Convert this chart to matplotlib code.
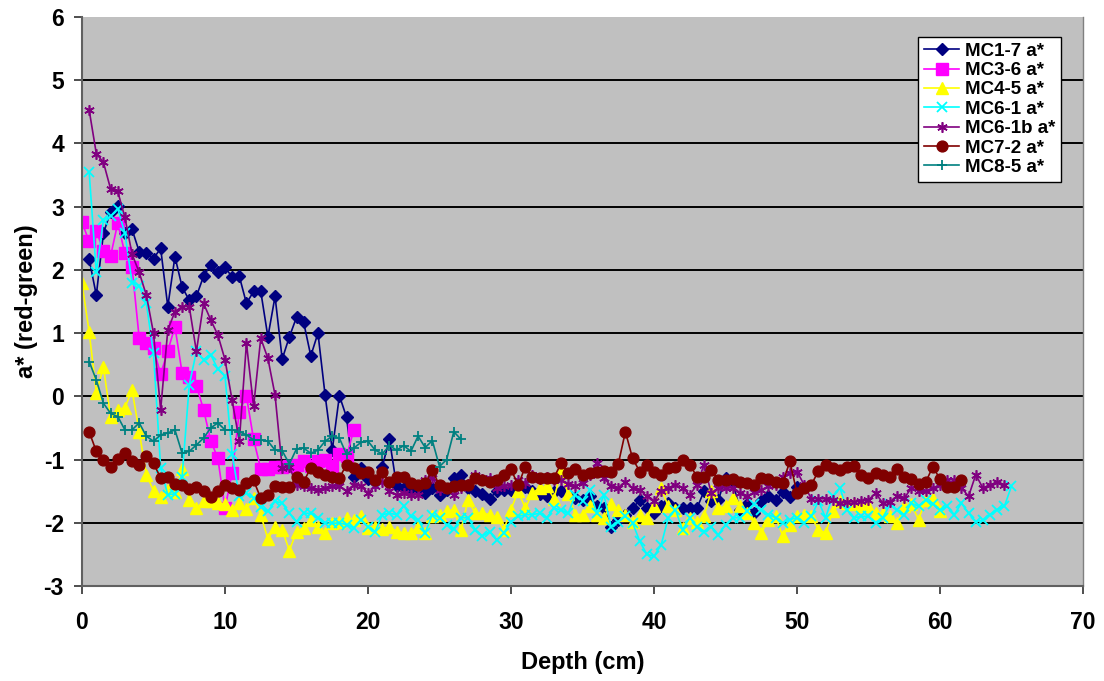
import numpy as np
import matplotlib
matplotlib.use("Agg")
import matplotlib.pyplot as plt

plt.rcParams["font.family"] = ["Liberation Sans", "DejaVu Sans"]
plt.rcParams["axes.unicode_minus"] = False

STEP = 0.5  # sampling interval along the core (cm)

mc1_7_start = 0.5
mc1_7 = [2.17, 1.60, 2.58, 2.92, 3.01, 2.58, 2.64, 2.29, 2.26, 2.18,
         2.34, 1.42, 2.21, 1.73, 1.52, 1.58, 1.90, 2.08, 1.96, 2.05,
         1.88, 1.90, 1.47, 1.66, 1.66, 0.94, 1.58, 0.59, 0.94, 1.25,
         1.17, 0.64, 1.00, 0.02, -0.85, 0.01, -0.33, -1.27, -1.13, -1.30,
         -1.35, -1.11, -0.68, -1.42, -1.45, -1.50, -1.45, -1.53, -1.45, -1.56,
         -1.48, -1.29, -1.24, -1.45, -1.50, -1.55, -1.62, -1.50, -1.48, -1.48,
         -1.45, -1.43, -1.50, -1.54, -1.58, -1.52, -1.50, -1.55, -1.61, -1.64,
         -1.58, -1.74, -1.77, -2.06, -1.95, -1.87, -1.77, -1.64, -1.77, -1.85,
         -1.74, -1.69, -1.77, -1.77, -1.77, -1.77, -1.50, -1.66, -1.64, -1.29,
         -1.35, -1.79, -1.71, -1.85, -1.66, -1.58, -1.64, -1.52, -1.59, -1.43]

mc3_6_start = 0.0
mc3_6 = [2.75, 2.45, 2.62, 2.30, 2.22, 2.74, 2.26, 2.04, 0.92, 0.84,
         0.76, 0.35, 0.72, 1.10, 0.37, 0.30, 0.17, -0.21, -0.70, -0.98,
         -1.77, -1.21, -0.24, 0.00, -0.68, -1.15, -1.15, -1.12, -1.12, -1.10,
         -1.08, -1.03, -1.10, -1.03, -1.00, -1.10, -0.92, -0.95, -0.53]

mc4_5_start = 0.0
mc4_5 = [1.79, 1.02, 0.06, 0.46, -0.33, -0.21, -0.18, 0.10, -0.56, -1.24,
         -1.49, -1.59, -1.48, -1.52, -1.15, -1.64, -1.77, -1.66, -1.66, -1.68,
         -1.71, -1.79, -1.68, -1.78, -1.61, -1.87, -2.26, -2.06, -2.11, -2.44,
         -2.14, -2.08, -1.95, -2.06, -2.16, -2.00, -1.98, -1.92, -1.96, -1.90,
         -2.08, -2.06, -2.10, -2.06, -2.14, -2.16, -2.16, -2.06, -2.16, -1.90,
         -1.87, -1.82, -1.79, -2.11, -1.64, -1.85, -1.85, -1.87, -1.91, -2.11,
         -1.79, -1.50, -1.77, -1.53, -1.45, -1.42, -1.62, -1.19, -1.55, -1.87,
         -1.87, -1.74, -1.87, -1.92, -1.71, -1.79, -1.87, -1.99, -1.87, -1.92,
         -1.73, -1.45, -1.74, -1.80, -2.08, -1.92, -1.98, -1.90, -1.50, -1.77,
         -1.74, -1.61, -1.74, -1.85, -2.00, -2.16, -1.95, -1.90, -2.21, -2.03,
         -1.90, -1.87, -1.90, -2.11, -2.16, -1.82, -1.66, -1.69, -1.71, -1.74,
         -1.74, -1.85, -1.85, -1.90, -2.01, -1.73, -1.71, -1.95, -1.64, -1.62,
         -1.82]

mc6_1_start = 0.5
mc6_1 = [3.55, 1.96, 2.79, 2.85, 2.97, 2.58, 1.80, 1.75, 1.47, 0.68,
         -1.13, -1.56, -1.54, -1.27, 0.18, 0.71, 0.58, 0.66, 0.43, 0.32,
         -0.92, -1.58, -1.53, -1.61, -1.75, -1.82, -1.66, -1.69, -1.85, -1.98,
         -1.85, -1.85, -1.92, -2.00, -2.01, -2.00, -2.03, -2.08, -1.95, -2.06,
         -2.14, -1.87, -1.85, -1.87, -1.73, -1.90, -1.95, -2.16, -1.87, -1.92,
         -2.03, -2.10, -1.92, -1.92, -2.11, -2.21, -2.14, -2.27, -2.16, -1.98,
         -1.90, -1.87, -1.87, -1.85, -1.92, -1.77, -1.80, -1.85, -1.56, -1.65,
         -1.48, -1.85, -1.56, -2.06, -1.98, -1.90, -2.00, -2.29, -2.50, -2.53,
         -2.35, -1.92, -1.79, -2.11, -1.92, -2.06, -2.14, -2.06, -2.19, -2.03,
         -1.92, -1.92, -1.82, -1.71, -1.80, -1.87, -1.92, -2.00, -1.95, -1.92,
         -2.00, -1.90, -1.66, -1.92, -1.58, -1.45, -1.79, -1.92, -1.90, -1.90,
         -2.00, -1.92, -1.71, -1.80, -1.87, -1.69, -1.74, -1.64, -1.70, -1.80,
         -1.74, -1.87, -1.69, -1.85, -1.98, -1.96, -1.87, -1.79, -1.74, -1.42]

mc6_1b_start = 0.5
mc6_1b = [4.53, 3.84, 3.70, 3.28, 3.24, 2.83, 2.25, 1.96, 1.60, 1.00,
          -0.21, 1.05, 1.34, 1.42, 1.42, 0.71, 1.47, 1.21, 0.97, 0.58,
          -0.06, -0.71, 0.84, -0.16, 0.92, 0.60, 0.02, -1.13, -1.11, -1.40,
          -1.42, -1.45, -1.48, -1.45, -1.42, -1.42, -1.50, -1.40, -1.42, -1.53,
          -1.42, -1.35, -1.50, -1.56, -1.53, -1.56, -1.56, -1.32, -1.29, -1.48,
          -1.45, -1.56, -1.45, -1.38, -1.24, -1.30, -1.29, -1.45, -1.42, -1.40,
          -1.32, -1.37, -1.24, -1.30, -1.28, -1.32, -1.32, -1.38, -1.42, -1.37,
          -1.24, -1.06, -1.29, -1.42, -1.45, -1.35, -1.45, -1.48, -1.58, -1.66,
          -1.50, -1.45, -1.40, -1.45, -1.56, -1.40, -1.08, -1.53, -1.45, -1.45,
          -1.45, -1.53, -1.58, -1.52, -1.48, -1.42, -1.40, -1.27, -1.21, -1.19,
          -1.40, -1.62, -1.62, -1.62, -1.64, -1.69, -1.67, -1.67, -1.65, -1.64,
          -1.53, -1.69, -1.67, -1.58, -1.61, -1.45, -1.50, -1.50, -1.45, -1.40,
          -1.32, -1.32, -1.45, -1.58, -1.24, -1.45, -1.40, -1.36, -1.40]

mc7_2_start = 0.5
mc7_2 = [-0.56, -0.87, -1.00, -1.11, -0.99, -0.89, -1.03, -1.08, -0.94, -1.06,
         -1.29, -1.27, -1.38, -1.40, -1.47, -1.43, -1.50, -1.59, -1.50, -1.40,
         -1.45, -1.48, -1.37, -1.33, -1.61, -1.56, -1.42, -1.43, -1.43, -1.28,
         -1.35, -1.13, -1.19, -1.24, -1.28, -1.29, -1.08, -1.13, -1.21, -1.19,
         -1.32, -1.20, -1.36, -1.27, -1.28, -1.37, -1.41, -1.37, -1.17, -1.41,
         -1.45, -1.42, -1.41, -1.40, -1.29, -1.32, -1.35, -1.32, -1.24, -1.15,
         -1.41, -1.11, -1.27, -1.29, -1.29, -1.29, -1.06, -1.21, -1.15, -1.24,
         -1.22, -1.19, -1.18, -1.19, -1.07, -0.56, -0.98, -1.19, -1.08, -1.19,
         -1.24, -1.13, -1.11, -1.00, -1.08, -1.27, -1.27, -1.16, -1.32, -1.32,
         -1.31, -1.36, -1.37, -1.41, -1.29, -1.31, -1.35, -1.37, -1.03, -1.53,
         -1.45, -1.40, -1.18, -1.08, -1.13, -1.16, -1.11, -1.10, -1.24, -1.29,
         -1.22, -1.24, -1.27, -1.15, -1.27, -1.31, -1.38, -1.36, -1.11, -1.31,
         -1.43, -1.43, -1.32]

mc8_5_start = 0.5
mc8_5 = [0.55, 0.26, -0.11, -0.27, -0.32, -0.53, -0.53, -0.42, -0.63, -0.71,
         -0.61, -0.58, -0.53, -0.90, -0.87, -0.77, -0.66, -0.50, -0.42, -0.53,
         -0.53, -0.56, -0.61, -0.69, -0.69, -0.71, -0.85, -0.86, -1.07, -0.83,
         -0.82, -0.90, -0.85, -0.71, -0.63, -0.66, -0.92, -0.82, -0.73, -0.71,
         -0.85, -0.91, -0.78, -0.85, -0.78, -0.87, -0.63, -0.81, -0.70, -1.11,
         -1.00, -0.56, -0.68]

x_ticks = [0, 10, 20, 30, 40, 50, 60, 70]
y_ticks = [-3, -2, -1, 0, 1, 2, 3, 4, 5, 6]

series = [
    ("MC1-7 a*", mc1_7_start, mc1_7, "#000080", "D", 6.0, None),
    ("MC3-6 a*", mc3_6_start, mc3_6, "#FF00FF", "s", 8.0, None),
    ("MC4-5 a*", mc4_5_start, mc4_5, "#FFFF00", "^", 8.0, None),
    ("MC6-1 a*", mc6_1_start, mc6_1, "#00FFFF", "x", 6.5, 1.3),
    ("MC6-1b a*", mc6_1b_start, mc6_1b, "#800080", (6, 2, 0), 7.5, 1.2),
    ("MC7-2 a*", mc7_2_start, mc7_2, "#800000", "o", 7.8, None),
    ("MC8-5 a*", mc8_5_start, mc8_5, "#008080", "+", 7.5, 1.3),
]

fig = plt.figure(figsize=(11.04, 6.81), dpi=100)
ax = fig.add_axes([82 / 1104, 1 - 586 / 681, (1083 - 82) / 1104, (586 - 17) / 681])
ax.set_facecolor("#C0C0C0")

# horizontal gridlines at the inner major ticks
ax.hlines(y_ticks[1:-1], 0, 70, colors="black", linewidth=1.4, zorder=0.5)

for label, start, vals, color, marker, ms, mew in series:
    depth = start + STEP * np.arange(len(vals))
    kw = dict(color=color, marker=marker, markersize=ms, linewidth=1.2,
              markerfacecolor=color, markeredgecolor=color, label=label)
    if mew is not None:
        kw["markeredgewidth"] = mew
    ax.plot(depth, vals, **kw)

ax.set_xlim(0, 70)
ax.set_ylim(-3, 6)
ax.set_xticks(x_ticks)
ax.set_yticks(y_ticks)

ax.spines["top"].set_visible(False)
ax.spines["right"].set_color("#808080")
ax.spines["right"].set_linewidth(1.0)
for side in ("left", "bottom"):
    ax.spines[side].set_color("#606060")
    ax.spines[side].set_linewidth(1.5)

ax.tick_params(axis="both", direction="out", length=6, width=1.2,
               color="#303030", labelsize=16.5)
ax.tick_params(axis="x", pad=12)
ax.tick_params(axis="y", pad=7)
for t in ax.get_xticklabels() + ax.get_yticklabels():
    t.set_fontweight("bold")

ax.set_xlabel("Depth (cm)", fontsize=17, fontweight="bold", labelpad=12)
ax.set_ylabel("a* (red-green)", fontsize=17, fontweight="bold", labelpad=4)

leg = ax.legend(loc="upper right", bbox_to_anchor=(1061 / 1104, 1 - 37 / 681),
                bbox_transform=fig.transFigure, frameon=True, fancybox=False,
                edgecolor="black", facecolor="white", framealpha=1,
                prop={"weight": "bold", "size": 13.5}, handlelength=1.9,
                handletextpad=0.3, labelspacing=0.12, borderpad=0.3,
                borderaxespad=0)
leg.get_frame().set_linewidth(1.0)

fig.savefig("out.png", dpi=100, facecolor="white")
